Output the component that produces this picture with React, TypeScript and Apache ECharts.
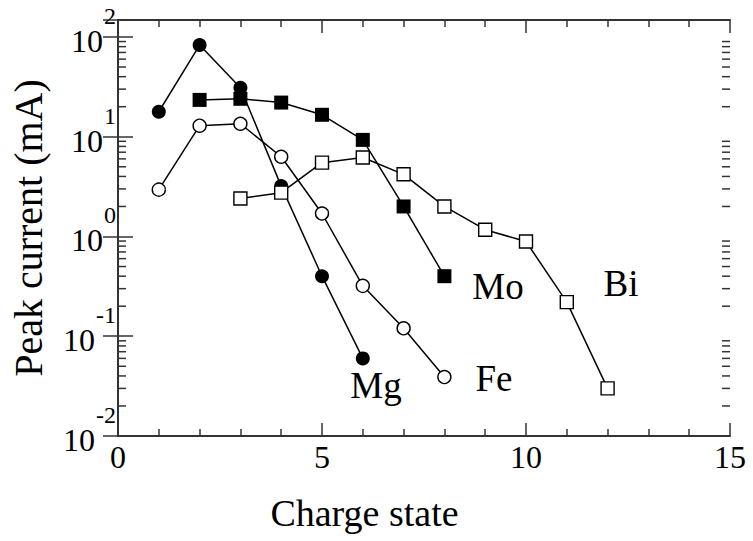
import React, { useEffect, useRef } from 'react';
import * as echarts from 'echarts';

// ---- data ----
const mgCharge = [1, 2, 3, 4, 5, 6];
const mgCurrent = [17.8, 83, 31, 3.2, 0.4, 0.06];
const moCharge = [2, 3, 4, 5, 6, 7, 8];
const moCurrent = [23.4, 24, 22, 16.6, 9.3, 2.0, 0.4];
const feCharge = [1, 2, 3, 4, 5, 6, 7, 8];
const feCurrent = [2.95, 12.9, 13.5, 6.3, 1.7, 0.32, 0.12, 0.039];
const biCharge = [3, 4, 5, 6, 7, 8, 9, 10, 11, 12];
const biCurrent = [2.4, 2.75, 5.5, 6.2, 4.2, 2.0, 1.17, 0.89, 0.22, 0.03];

const xMin = 0;
const xMax = 15;
const xMajorStep = 5;
const yMin = 0.01;
const yMax = 148;
const yDecades = [-2, -1, 0, 1];
const minorMultipliers = [2, 3, 4, 5, 6, 7, 8, 9];
const elementNames = ['Mg', 'Fe', 'Mo', 'Bi'];

const xTitle = 'Charge state';
const yTitle = 'Peak current (mA)';

const FONT = '"Liberation Serif", "Times New Roman", serif';
const INK = '#333';

const zip = (xs: number[], ys: number[]) => xs.map((x, i) => [x, ys[i]]);

const minorTickValues = yDecades
  .flatMap((d) => minorMultipliers.map((m) => m * Math.pow(10, d)))
  .filter((v) => v < yMax);

export default function App() {
  const ref = useRef<HTMLDivElement>(null);

  useEffect(() => {
    if (!ref.current) return;
    const chart = echarts.init(ref.current, undefined, { renderer: 'svg' });

    const yLabelFormatter = (value: number) => {
      const e = Math.log10(value);
      const r = Math.round(e);
      if (Math.abs(e - r) > 1e-6) return '';
      const neg = r < 0;
      return neg ? `{sn|${r}}\n{b|10}{spn| }` : `{s|${r}}\n{b|10}{sp| }`;
    };

    const supBase = {
      fontFamily: FONT,
      fontSize: 24,
      lineHeight: 8,
      color: '#000',
      align: 'right',
    };
    const spacerBase = { fontFamily: FONT, fontSize: 32, lineHeight: 42, align: 'right' };

    const lineBase = {
      type: 'line' as const,
      lineStyle: { color: '#000', width: 1.5 },
      z: 3,
    };

    const option: any = {
      animation: false,
      backgroundColor: '#fff',
      grid: { left: 117, right: 23, top: 20, bottom: 105, containLabel: false },
      xAxis: [
        {
          type: 'value',
          position: 'bottom',
          min: xMin,
          max: xMax,
          interval: xMajorStep,
          name: xTitle,
          nameLocation: 'middle',
          nameGap: 58,
          nameTextStyle: {
            fontFamily: FONT,
            fontSize: 38,
            color: '#000',
            padding: [0, 119, 0, 0],
          },
          axisLine: { show: true, lineStyle: { color: INK, width: 2 } },
          axisTick: { show: true, inside: true, length: 13, lineStyle: { color: INK, width: 1.5 } },
          minorTick: { show: true, splitNumber: 5, length: 7, lineStyle: { color: INK, width: 1.5 } },
          axisLabel: { fontFamily: FONT, fontSize: 32, color: '#000', margin: 5 },
          splitLine: { show: false },
        },
        {
          type: 'value',
          position: 'top',
          min: xMin,
          max: xMax,
          interval: xMajorStep,
          axisLine: { show: true, lineStyle: { color: INK, width: 2 } },
          axisTick: { show: true, inside: true, length: 13, lineStyle: { color: INK, width: 1.5 } },
          minorTick: { show: true, splitNumber: 5, length: 7, lineStyle: { color: INK, width: 1.5 } },
          axisLabel: { show: false },
          splitLine: { show: false },
        },
      ],
      yAxis: [
        {
          type: 'log',
          logBase: 10,
          position: 'left',
          min: yMin,
          max: yMax,
          name: yTitle,
          nameLocation: 'middle',
          nameGap: 70,
          nameRotate: 90,
          nameTextStyle: { fontFamily: FONT, fontSize: 40, color: '#000' },
          axisLine: { show: true, lineStyle: { color: INK, width: 2 } },
          axisTick: { show: true, inside: true, length: 15, lineStyle: { color: INK, width: 1.5 } },
          splitLine: { show: false },
          axisLabel: {
            margin: 2,
            formatter: yLabelFormatter,
            rich: {
              b: { fontFamily: FONT, fontSize: 32, lineHeight: 42, color: '#000', align: 'right' },
              s: { ...supBase, width: 13 },
              sn: { ...supBase, width: 21 },
              sp: { ...spacerBase, width: 13 },
              spn: { ...spacerBase, width: 21 },
            },
          },
        },
        {
          type: 'log',
          logBase: 10,
          position: 'right',
          min: yMin,
          max: yMax,
          axisLine: { show: true, lineStyle: { color: INK, width: 2 } },
          axisTick: { show: true, inside: true, length: 15, lineStyle: { color: INK, width: 1.5 } },
          axisLabel: { show: false },
          splitLine: { show: false },
        },
      ],
      series: [
        {
          type: 'custom',
          name: 'minor ticks',
          silent: true,
          xAxisIndex: 0,
          yAxisIndex: 0,
          data: minorTickValues.map((v) => [xMin, v]),
          renderItem: (params: any, api: any) => {
            const v = api.value(1);
            const l = api.coord([xMin, v]);
            const r = api.coord([xMax, v]);
            const style = { stroke: INK, lineWidth: 1.5 };
            return {
              type: 'group',
              children: [
                { type: 'line', shape: { x1: l[0], y1: l[1], x2: l[0] + 8, y2: l[1] }, style },
                { type: 'line', shape: { x1: r[0] - 8, y1: r[1], x2: r[0], y2: r[1] }, style },
              ],
            };
          },
          z: 1,
        },
        {
          ...lineBase,
          name: elementNames[0],
          data: zip(mgCharge, mgCurrent),
          symbol: 'circle',
          symbolSize: 14,
          itemStyle: { color: '#000', borderColor: '#000', borderWidth: 0 },
        },
        {
          ...lineBase,
          name: elementNames[1],
          data: zip(feCharge, feCurrent),
          symbol: 'circle',
          symbolSize: 13,
          itemStyle: { color: '#fff', borderColor: '#000', borderWidth: 1.4 },
        },
        {
          ...lineBase,
          name: elementNames[2],
          data: zip(moCharge, moCurrent),
          symbol: 'rect',
          symbolSize: 14,
          itemStyle: { color: '#000', borderColor: '#000', borderWidth: 0 },
        },
        {
          ...lineBase,
          name: elementNames[3],
          data: zip(biCharge, biCurrent),
          symbol: 'rect',
          symbolSize: 13,
          itemStyle: { color: '#fff', borderColor: '#000', borderWidth: 1.4 },
        },
      ],
      graphic: [
        { x: 376, y: 385 },
        { x: 494, y: 378 },
        { x: 498, y: 286 },
        { x: 621, y: 283 },
      ].map((g, i) => ({
        type: 'text',
        x: g.x,
        y: g.y,
        z: 10,
        style: {
          text: elementNames[i],
          fontFamily: FONT,
          fontSize: 37,
          fill: '#000',
          textAlign: 'center',
          textVerticalAlign: 'middle',
        },
      })),
    };

    chart.setOption(option);
    return () => chart.dispose();
  }, []);

  return (
    <div
      ref={ref}
      style={{ position: 'absolute', left: 0, top: 0, width: 753, height: 541, background: '#fff' }}
    />
  );
}
